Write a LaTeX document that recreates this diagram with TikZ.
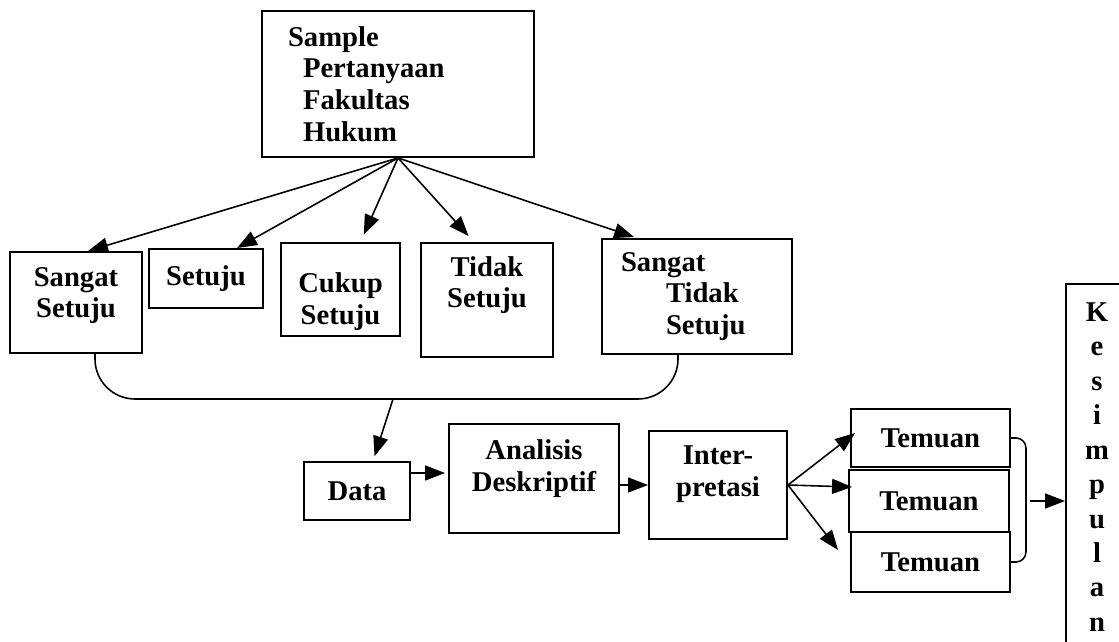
\documentclass[tikz,border=0pt]{standalone}
\usepackage{fontspec}
\setmainfont{Liberation Serif}
\usetikzlibrary{shapes.geometric, arrows, arrows.meta, positioning, calc}

\tikzset{
    kotak/.style={draw, line width=1.1pt, align=center, inner sep=2pt},
    panah/.style={->, line width=0.9pt},
    >={Triangle[length=0.4cm, width=0.3cm]}
}

\begin{document}
\begin{tikzpicture}[font=\fontsize{16.3}{18}\selectfont\bfseries]
    \useasboundingbox (0,0) rectangle (22.38,12.82);

    % sampel
    \node[kotak, minimum width=5.44cm, minimum height=2.92cm, text width=4.4cm, align=left] (sample) at (7.96,11.14) {Sample\\ \hspace*{0.3cm}Pertanyaan\\ \hspace*{0.3cm}Fakultas\\ \hspace*{0.3cm}Hukum};

    % pilihan jawaban
    \node[kotak, minimum width=2.64cm, minimum height=2.02cm] (ss) at (1.52,6.77) {Sangat\\Setuju\rule[-0.4cm]{0pt}{0pt}};
    \node[kotak, minimum width=2.28cm, minimum height=1.18cm] (setuju) at (4.12,7.25) {Setuju};
    \node[kotak, minimum width=2.38cm, minimum height=1.86cm] (cukup) at (6.81,7.03) {\rule{0pt}{0.88cm}Cukup\\Setuju};
    \node[kotak, minimum width=2.64cm, minimum height=2.28cm] (tidak) at (9.74,6.82) {Tidak\\Setuju\rule[-0.72cm]{0pt}{0pt}};
    \node[kotak, minimum width=3.8cm, minimum height=2.3cm, text width=3.04cm, align=left] (sts) at (13.94,6.89) {Sangat\\ \hspace*{0.9cm}Tidak\\ \hspace*{0.9cm}Setuju};

    \draw[panah] (sample.south) -- ([xshift=0.24cm]ss.north);
    \draw[panah] (sample.south) -- ([xshift=0.62cm]setuju.north);
    \draw[panah, shorten >=0.16cm] (sample.south) -- ([xshift=0.4cm]cukup.north);
    \draw[panah, shorten >=0.16cm] (sample.south) -- ([xshift=-0.26cm]tidak.north);
    \draw[panah, shorten >=0.06cm] (sample.south) -- ([xshift=-1.2cm]sts.north);

    % analisis
    \node[kotak, minimum width=2.12cm, minimum height=1.16cm] (data) at (7.14,3.00) {Data};
    \node[kotak, minimum width=3.4cm, minimum height=2.18cm] (analisis) at (10.68,3.25) {Analisis\\Deskriptif\rule[-0.52cm]{0pt}{0pt}};
    \node[kotak, minimum width=2.76cm, minimum height=2.16cm] (interp) at (14.36,3.12) {Inter-\\pretasi\rule[-0.56cm]{0pt}{0pt}};

    \coordinate (gabung) at (7.86,4.84);
    \draw[line width=0.9pt, rounded corners=0.8cm] ([xshift=0.38cm]ss.south) |- (gabung) -| ([xshift=-0.38cm]sts.south);
    \draw[panah, shorten >=0.1cm] (gabung) -- ([xshift=0.32cm]data.north);

    \coordinate (dkanan) at ([yshift=0.36cm]data.east);
    \draw[panah, shorten >=0.06cm] (dkanan) -- (dkanan -| analisis.west);
    \draw[panah] (analisis.east |- interp.west) -- (interp.west);

    % temuan
    \node[kotak, minimum width=3.18cm, minimum height=1.16cm] (t1) at (18.61,4.06) {Temuan};
    \node[kotak, minimum width=3.2cm, minimum height=1.24cm] (t2) at (18.58,2.80) {Temuan};
    \node[kotak, minimum width=3.18cm, minimum height=1.2cm] (t3) at (18.61,1.58) {Temuan};

    \draw[panah] (interp.east) -- ([xshift=0.1cm, yshift=0.1cm]t1.west);
    \draw[panah] (interp.east) -- ([xshift=0.08cm, yshift=0.28cm]t2.west);
    \draw[panah] (interp.east) -- ([xshift=-0.24cm, yshift=0.24cm]t3.west);

    % kesimpulan
    \node[kotak, minimum width=1.24cm, minimum height=7.32cm, font=\fontsize{16.3}{19.6}\selectfont\bfseries] (kes) at (21.94,3.48) {K\\e\\s\\i\\m\\p\\u\\l\\a\\n};

    \draw[line width=0.9pt, rounded corners=0.2cm] (t1.east) -- ++(0.3,0) |- (t3.east);
    \coordinate (kurung) at ([xshift=0.4cm]t2.east);
    \draw[panah] (kurung) -- (kurung -| kes.west);
\end{tikzpicture}
\end{document}
